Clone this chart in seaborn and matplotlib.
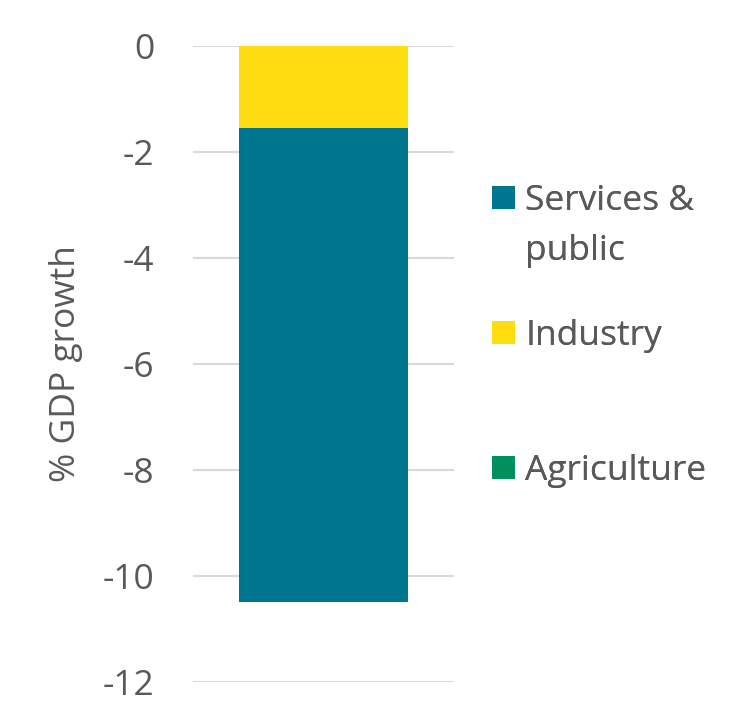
import numpy as np
import pandas as pd
import matplotlib
matplotlib.use("Agg")
import matplotlib.pyplot as plt
from matplotlib.patches import Patch
import seaborn as sns

categories = [""]
series_names = ["Agriculture", "Industry", "Services &\npublic"]
agriculture = [0.0]
industry = [-1.55]
services = [-8.94]
colors = ["#00905E", "#FFDD11", "#00758F"]
y_ticks = [0, -2, -4, -6, -8, -10, -12]

sns.set_theme(style="white")
plt.rcParams["font.family"] = ["Open Sans", "DejaVu Sans"]

TXT = "#595959"
FS = 25.5

fig = plt.figure(figsize=(7.34, 7.15), dpi=100)
ax = fig.add_axes([193 / 734, 1 - 681.7 / 715, 261 / 734, 636 / 715])

vals = np.array([agriculture, industry, services])
cum = np.cumsum(vals, axis=0)

handles = {}
# draw from deepest cumulative to shallowest so each segment shows
for i in [2, 1, 0]:
    df = pd.DataFrame({"cat": categories, "val": cum[i]})
    sns.barplot(data=df, x="cat", y="val", color=colors[i], width=0.65,
                saturation=1, linewidth=0, ax=ax, zorder=3)
    handles[i] = ax.patches[-1]

ax.set_ylim(-12, 0)
ax.set_xlim(-0.5, 0.5)
ax.set_yticks(y_ticks)
ax.set_yticklabels([str(t) for t in y_ticks])
ax.yaxis.grid(True, color="#D9D9D9", linewidth=1.5, zorder=0)
ax.set_axisbelow(True)
for s in ax.spines.values():
    s.set_visible(False)
ax.set_xticks([])
ax.set_xlabel("")
ax.tick_params(axis="y", length=0, pad=28, labelsize=FS, labelcolor=TXT)
ax.set_ylabel("% GDP growth", fontsize=FS, color=TXT, labelpad=14)

# legends positioned like the reference
entries = [
    (handles[2], "Services &", 201),
    (Patch(alpha=0), "public", 251),
    (handles[1], "Industry", 336),
    (handles[0], "Agriculture", 471),
]
for h, lab, ypix in entries:
    leg = fig.legend([h], [lab], loc="center left",
                     bbox_to_anchor=(492 / 734, 1 - ypix / 715),
                     frameon=False, fontsize=FS, handlelength=0.64,
                     handleheight=0.64, handletextpad=0.3,
                     labelcolor=TXT, borderpad=0, borderaxespad=0)
    fig.add_artist(leg)

fig.savefig("out.png", dpi=100)
